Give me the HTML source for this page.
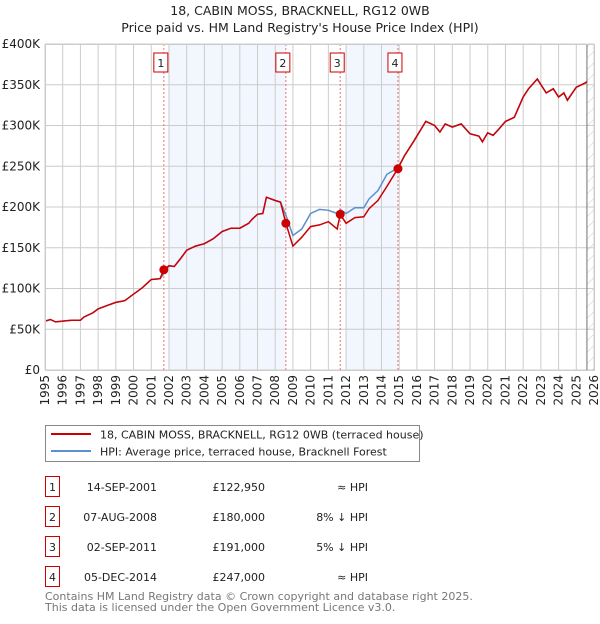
<!DOCTYPE html>
<html><head><meta charset="utf-8"><style>
body{margin:0;background:#fff;font-family:"DejaVu Sans","Liberation Sans",sans-serif;}
svg text{font-family:"DejaVu Sans","Liberation Sans",sans-serif;}
</style></head><body>
<svg id="chart" width="600" height="620" xmlns="http://www.w3.org/2000/svg">
<defs>
<pattern id="hatch" patternUnits="userSpaceOnUse" width="8" height="8" patternTransform="rotate(45)"><line x1="0" y1="0" x2="0" y2="8" stroke="#ccc" stroke-width="1"/></pattern>
<clipPath id="plotclip"><rect x="45" y="44" width="549" height="327"/></clipPath>
</defs>
<text x="300" y="15" text-anchor="middle" font-size="12.5" fill="#222">18, CABIN MOSS, BRACKNELL, RG12 0WB</text>
<text x="300" y="32" text-anchor="middle" font-size="12.5" fill="#222">Price paid vs. HM Land Registry's House Price Index (HPI)</text>
<g id="shades"></g>
<g id="grid"></g>
<g id="series" clip-path="url(#plotclip)"></g>
<g id="marks"></g>
<g id="axes"></g>
<rect x="45.5" y="425.5" width="374" height="36" fill="#fff" stroke="#888"/>
<line x1="51" y1="434" x2="91" y2="434" stroke="#cc0000" stroke-width="2"/>
<text x="100" y="438.5" font-size="11" fill="#222">18, CABIN MOSS, BRACKNELL, RG12 0WB (terraced house)</text>
<line x1="51" y1="451" x2="91" y2="451" stroke="#5b8fd0" stroke-width="2"/>
<text x="100" y="455.5" font-size="11" fill="#222">HPI: Average price, terraced house, Bracknell Forest</text>
<g id="table" font-size="11" fill="#222"></g>
<text x="45" y="600" font-size="11" fill="#777">Contains HM Land Registry data © Crown copyright and database right 2025.</text>
<text x="45" y="611" font-size="11" fill="#777">This data is licensed under the Open Government Licence v3.0.</text>
</svg>
<script>
const yearTicks=[1995,1996,1997,1998,1999,2000,2001,2002,2003,2004,2005,2006,2007,2008,2009,2010,2011,2012,2013,2014,2015,2016,2017,2018,2019,2020,2021,2022,2023,2024,2025,2026];
const valueTicks=[0,50000,100000,150000,200000,250000,300000,350000,400000];
const valueTickLabels=["£0","£50K","£100K","£150K","£200K","£250K","£300K","£350K","£400K"];
const hpiYears=[1995,1995.3,1995.6,1996,1996.5,1997,1997.2,1997.7,1998,1998.5,1999,1999.5,2000,2000.5,2001,2001.5,2001.7,2002,2002.3,2002.7,2003,2003.5,2004,2004.5,2005,2005.5,2006,2006.5,2006.7,2007,2007.3,2007.5,2008,2008.3,2008.6,2009,2009.5,2010,2010.5,2011,2011.5,2011.67,2012,2012.5,2013,2013.3,2013.8,2014.3,2014.92,2015.3,2015.8,2016.5,2017,2017.3,2017.6,2018,2018.5,2019,2019.5,2019.7,2020,2020.3,2020.6,2021,2021.5,2022,2022.3,2022.8,2023.3,2023.7,2024,2024.3,2024.5,2025,2025.5,2025.6];
const hpiValues=[60,62,59,60,61,61,65,70,75,79,83,85,93,101,111,112,118,128,127,138,147,152,155,161,170,174,174,180,185,191,192,212,208,206,190,165,173,192,197,196,192,197,192,199,199,210,220,240,248,263,280,305,300,292,302,298,302,290,287,280,291,288,295,305,310,335,345,357,340,345,335,340,331,347,352,354];
const priceYears=[1995,1995.3,1995.6,1996,1996.5,1997,1997.2,1997.7,1998,1998.5,1999,1999.5,2000,2000.5,2001,2001.5,2001.7,2002,2002.3,2002.7,2003,2003.5,2004,2004.5,2005,2005.5,2006,2006.5,2006.7,2007,2007.3,2007.5,2008,2008.3,2008.6,2009,2009.5,2010,2010.5,2011,2011.5,2011.67,2012,2012.5,2013,2013.3,2013.8,2014.3,2014.92,2015.3,2015.8,2016.5,2017,2017.3,2017.6,2018,2018.5,2019,2019.5,2019.7,2020,2020.3,2020.6,2021,2021.5,2022,2022.3,2022.8,2023.3,2023.7,2024,2024.3,2024.5,2025,2025.5,2025.6];
const priceValues=[60,62,59,60,61,61,65,70,75,79,83,85,93,101,111,112,122.95,128,127,138,147,152,155,161,170,174,174,180,185,191,192,212,208,206,180,152,163,176,178,182,173,191,180,187,188,198,208,225,247,263,280,305,300,292,302,298,302,290,287,280,291,288,295,305,310,335,345,357,340,345,335,340,331,347,352,354];
const saleYears=[2001.71,2008.6,2011.67,2014.93];
const salePrices=[122950,180000,191000,247000];
const saleDates=["14-SEP-2001","07-AUG-2008","02-SEP-2011","05-DEC-2014"];
const salePriceLabels=["£122,950","£180,000","£191,000","£247,000"];
const saleHpiLabels=["≈ HPI","8% ↓ HPI","5% ↓ HPI","≈ HPI"];
const dataEnd=2025.6;

const X0=45,X1=594,Y0=370,Y1=44;
const xs=y=>X0+(y-1995)/(2026-1995)*(X1-X0);
const ys=v=>Y0-v/400000*(Y0-Y1);
const NS="http://www.w3.org/2000/svg";
function mk(tag,parent,attrs){const e=document.createElementNS(NS,tag);for(const k in attrs)e.setAttribute(k,attrs[k]);document.getElementById(parent).appendChild(e);return e;}

for(let i=0;i<saleYears.length;i+=2){
 const a=Math.ceil(saleYears[i]),b=saleYears[i+1];
 const r=mk('rect','shades',{x:xs(a),y:Y1,width:xs(b)-xs(a),height:Y0-Y1,fill:'#f2f6fe'});
 
 
}
const hz=mk('rect','shades',{x:xs(dataEnd),y:Y1,width:X1-xs(dataEnd),height:Y0-Y1,fill:'url(#hatch)'});


yearTicks.forEach(t=>{mk('line','grid',{x1:xs(t),x2:xs(t),y1:Y1,y2:Y0,stroke:'#ccc','stroke-width':1});});
valueTicks.forEach(t=>{mk('line','grid',{x1:X0,x2:X1,y1:ys(t),y2:ys(t),stroke:'#ccc','stroke-width':1});});
mk('line','grid',{x1:xs(dataEnd),x2:xs(dataEnd),y1:Y1,y2:Y0,stroke:'#888','stroke-width':1.2});
valueTicks.forEach((t,i)=>{const e=mk('text','axes',{x:40,y:ys(t)+4,'text-anchor':'end','font-size':12,fill:'#222'});e.textContent=valueTickLabels[i];
 
 });
yearTicks.forEach(t=>{const e=mk('text','axes',{transform:`translate(${xs(t)+4},375) rotate(-90)`,'text-anchor':'end','font-size':12,fill:'#222'});e.textContent=t;
 
 });
function path(xsArr,vArr){return xsArr.map((y,i)=>(i?'L':'M')+xs(y).toFixed(1)+','+ys(vArr[i]*1000).toFixed(1)).join('');}
const hp=mk('path','series',{d:path(hpiYears,hpiValues),fill:'none',stroke:'#5b8fd0','stroke-width':1.5});


const pp=mk('path','series',{d:path(priceYears,priceValues),fill:'none',stroke:'#cc0000','stroke-width':1.5});


saleYears.forEach((y,i)=>{
 mk('line','marks',{x1:xs(y),x2:xs(y),y1:Y1,y2:Y0,stroke:'#f07070','stroke-width':1,'stroke-dasharray':'2,2'});
 const c=mk('circle','marks',{cx:xs(y),cy:ys(salePrices[i]),r:4.5,fill:'#cc0000'});
 
 
 const bx=xs(y)-3;
 const r=mk('rect','marks',{x:bx-7,y:53,width:14,height:19,fill:'#fff',stroke:'#cc0000','stroke-width':1});
 
 
 const t=mk('text','marks',{x:bx,y:67,'text-anchor':'middle','font-size':11,fill:'#222'});t.textContent=i+1;
 const ty=483+i*30;
 const tb=mk('rect','table',{x:45.5,y:ty-6.5,width:14,height:20,fill:'none',stroke:'#cc0000'});
 
 
 const tn=mk('text','table',{x:52.5,y:ty+8,'text-anchor':'middle'});tn.textContent=i+1;
 const td=mk('text','table',{x:157,y:ty+8,'text-anchor':'end'});td.textContent=saleDates[i];
 
 
 const tp=mk('text','table',{x:265,y:ty+8,'text-anchor':'end'});tp.textContent=salePriceLabels[i];
 
 
 const th=mk('text','table',{x:368,y:ty+8,'text-anchor':'end'});th.textContent=saleHpiLabels[i];
 
 
});
mk('rect','axes',{x:X0+0.5,y:Y1+0.5,width:X1-X0,height:Y0-Y1,fill:'none',stroke:'#ccc'});
</script>
</body></html>
